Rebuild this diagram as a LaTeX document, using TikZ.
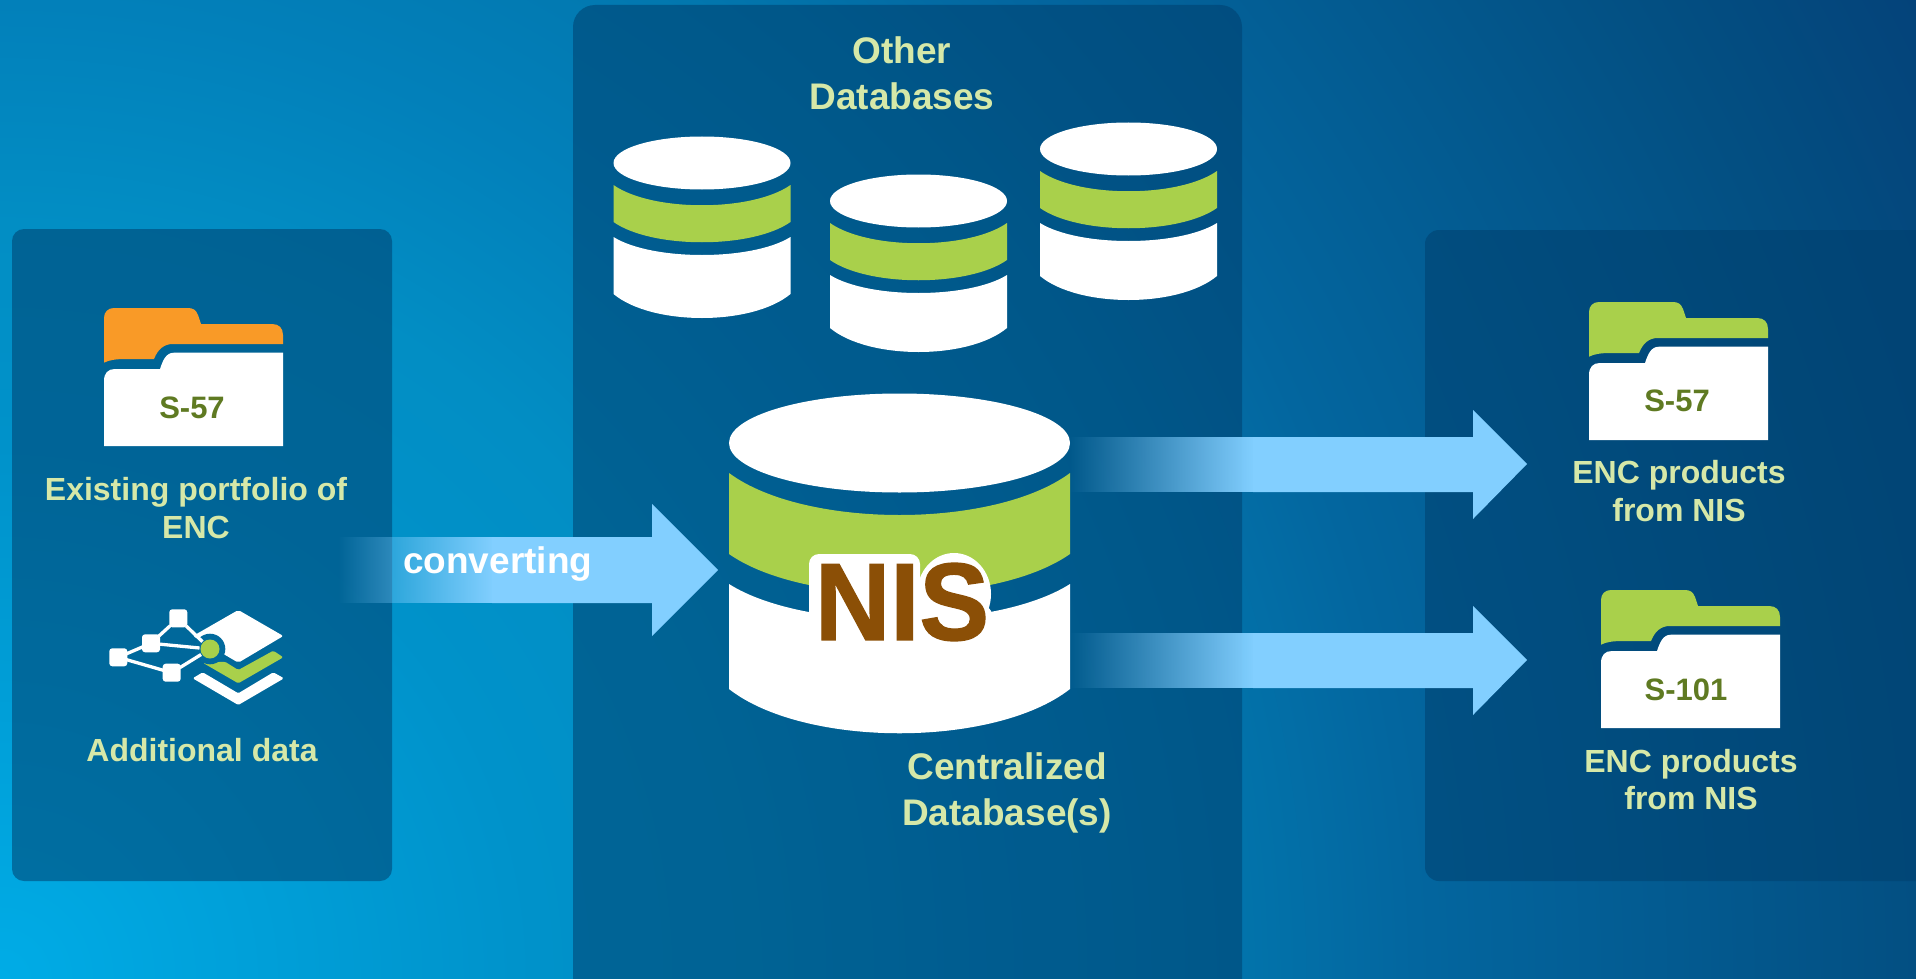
\documentclass[tikz,border=0pt]{standalone}
\usepackage{fontspec}
\setmainfont{Liberation Sans}
\newfontfamily\nisfont[FakeBold=1.2]{Liberation Sans Bold}
\usetikzlibrary{fadings}
\definecolor{gA}{HTML}{00ACE6}
\definecolor{gB}{HTML}{0092CA}
\definecolor{gC}{HTML}{028EC4}
\definecolor{gD}{HTML}{0280BA}
\definecolor{gE}{HTML}{0277AE}
\definecolor{gF}{HTML}{03669F}
\definecolor{gG}{HTML}{034F82}
\definecolor{gH}{HTML}{04437A}
\definecolor{panelc}{HTML}{00406E}
\definecolor{ringc}{HTML}{026A9D}
\definecolor{leaf}{HTML}{A9D04B}
\definecolor{amber}{HTML}{F99A27}
\definecolor{sky}{HTML}{82CFFF}
\definecolor{pale}{HTML}{D6E8A8}
\definecolor{olive}{HTML}{5F7A22}
\definecolor{nisbrown}{HTML}{8B4F06}
\pgfdeclareradialshading{bggrad}{\pgfpoint{0bp}{0bp}}{color(0bp)=(gA); color(6.08bp)=(gB); color(8.57bp)=(gC); color(11.1bp)=(gD); color(13.6bp)=(gE); color(16.07bp)=(gF); color(21.8bp)=(gG); color(24.45bp)=(gH); color(50bp)=(gH)}
\tikzfading[name=fadein, left color=transparent!100, right color=transparent!0]
\tikzset{
  panelbox/.style={fill=panelc, fill opacity=.55},
  lbl/.style={text=pale, font=\bfseries\fontsize{32}{37.5}\selectfont, align=center, inner sep=0pt},
  biglbl/.style={text=pale, font=\bfseries\fontsize{37}{46}\selectfont, align=center, inner sep=0pt},
  foldertxt/.style={text=olive, font=\bfseries\fontsize{31}{31}\selectfont, inner sep=0pt},
  nodebox/.style={fill=white, rounded corners=3pt, minimum size=18pt, inner sep=0pt, outer sep=-1pt},
  linkline/.style={draw=white, line width=3.3pt},
  flowarrow/.style={fill=sky},
  flowtail/.style={fill=sky, path fading=fadein}
}
\newcommand{\folderglyph}[3]{%
  \begin{scope}[shift={(#1,#2)}]
    \fill[#3] (0,54.7) -- (0,10) .. controls (0,4) and (4,0) .. (10,0) -- (84,0)
      .. controls (89,0) and (92,2) .. (94,7) -- (97,16) -- (168,16)
      .. controls (175,16) and (179,20) .. (179,27) -- (179,36) -- (69,36)
      .. controls (60,36) and (54,41) .. (50,51) -- (22,51)
      .. controls (12,51) and (5,52) .. (0,54.7) -- cycle;
    \fill[white] (0,138) -- (0,73) .. controls (0,65) and (4,61) .. (11,61) -- (56,61)
      .. controls (59,52) and (62,44.7) .. (70,44.7) -- (179,44.7) -- (179,138) -- cycle;
  \end{scope}}
\newcommand{\smallcyl}[3]{%
  \begin{scope}[shift={(#1,#2)}]
    \fill[white] (0,0) ellipse [x radius=88.5, y radius=26.5];
    \fill[leaf] (-88.5,22) .. controls (-50,49) and (50,49) .. (88.5,22) -- (88.5,59)
      .. controls (50,86) and (-50,86) .. (-88.5,59) -- cycle;
    \fill[white] (-88.5,74) .. controls (-50,98) and (50,98) .. (88.5,74) -- (88.5,127+#3)
      .. controls (50,159+#3) and (-50,159+#3) .. (-88.5,127+#3) -- cycle;
  \end{scope}}
\begin{document}
\begin{tikzpicture}[x=1pt,y=-1pt]
\useasboundingbox (0,0) rectangle (1916,979);
\clip (0,0) rectangle (1916,979);
% background
\shade[shading=bggrad] (-2200,-1221) rectangle (2200,3179);
% panels
\fill[panelbox, rounded corners=12pt] (12,229) rectangle (392,881);
\fill[panelbox, rounded corners=22pt] (573,5) rectangle (1242,1010);
\fill[panelbox, rounded corners=14pt] (1425,230) rectangle (1960,881);
% arrows
\fill[flowarrow] (492,537) -- (652,537) -- (652,504) -- (718,570) -- (652,636) -- (652,603) -- (492,603) -- cycle;
\fill[flowtail] (338,537) rectangle (493,603);
\fill[flowarrow] (1253,437) -- (1473,437) -- (1473,410) -- (1527,464) -- (1473,519) -- (1473,492) -- (1253,492) -- cycle;
\fill[flowtail] (1069,437) rectangle (1254,492);
\fill[flowarrow] (1253,633) -- (1473,633) -- (1473,606) -- (1527,660) -- (1473,715) -- (1473,688) -- (1253,688) -- cycle;
\fill[flowtail] (1069,633) rectangle (1254,688);
% folders
\folderglyph{104}{308}{amber}
\folderglyph{1589}{302}{leaf}
\folderglyph{1601}{590}{leaf}
\node[foldertxt] (tleft) at (192,408) {S-57};
\node[foldertxt] (tright) at (1677,401) {S-57};
\node[foldertxt] (ttwo) at (1686,690) {S-101};
% left labels
\node[lbl] (existing) at (196,508) {Existing portfolio of\\ENC};
\node[lbl] (additional) at (202,750) {Additional data};
\node[text=white, font=\bfseries\fontsize{37}{37}\selectfont, inner sep=0pt, anchor=base west] (conv) at (403,573) {converting};
% icon
\fill[white, rounded corners=2pt] (238.3,610) -- (283.3,636) -- (238.3,662.7) -- (193,636) -- cycle;
\fill[leaf, rounded corners=1.5pt] (202.7,662.7) -- (238.3,683.3) -- (283.3,657.3) -- (273.3,650.7) -- (238.3,670) -- (225,661.7) -- cycle;
\fill[white, rounded corners=1.5pt] (192.7,678.3) -- (202.7,672.3) -- (238.3,693.3) -- (273.3,672.3) -- (284,678.3) -- (238.3,705) -- cycle;
\fill[ringc] (210,649) circle (15.3);
\node[circle, fill=leaf, minimum size=19pt, inner sep=0pt, outer sep=1pt] (hub) at (210,649) {};
\node[nodebox] (na) at (178.3,618.3) {};
\node[nodebox] (nb) at (151,643.3) {};
\node[nodebox] (nc) at (118.3,657.3) {};
\node[nodebox] (nd) at (171.7,672.7) {};
\draw[linkline] (na) -- (nb);
\draw[linkline] (nb) -- (nc);
\draw[linkline] (nc) -- (nd);
\draw[linkline] (na) -- (hub);
\draw[linkline] (nb) -- (hub);
\draw[linkline] (nd) -- (hub);
% small cylinders
\smallcyl{702}{163}{4}
\smallcyl{918.5}{201}{0}
\smallcyl{1128.5}{149}{0}
% big cylinder
\begin{scope}[shift={(899.5,443)}]
  \fill[white] (0,0) ellipse [x radius=170.5, y radius=49.5];
  \fill[leaf] (-170.5,30) .. controls (-95,86) and (95,86) .. (170.5,30) -- (170.5,111)
    .. controls (95,164) and (-95,164) .. (-170.5,111) -- cycle;
  \fill[white] (-170.5,141) .. controls (-95,189) and (95,189) .. (170.5,141) -- (170.5,246)
    .. controls (95,305) and (-95,305) .. (-170.5,246) -- cycle;
\end{scope}
% halo behind NIS
\fill[white, rounded corners=10pt] (809,554) -- (920,554) -- (920,640) -- (809,640) -- cycle;
\fill[white] (954,594) ellipse [x radius=37, y radius=41];
\fill[white, rounded corners=6pt] (917,600) -- (975,595) -- (993,612) -- (993,640) -- (917,640) -- cycle;
\node[text=nisbrown, inner sep=0pt] (nis) at (902,602) {\nisfont\fontsize{110}{110}\selectfont\scalebox{.95}[1]{NIS}};
% labels
\node[biglbl] (other) at (902,73) {Other\\Databases};
\node[biglbl] (central) at (1007,792.5) {Centralized\\Database(s)};
\node[lbl] (enc1) at (1679,491) {ENC products\\from NIS};
\node[lbl] (enc2) at (1691,779.5) {ENC products\\from NIS};
\end{tikzpicture}
\end{document}
